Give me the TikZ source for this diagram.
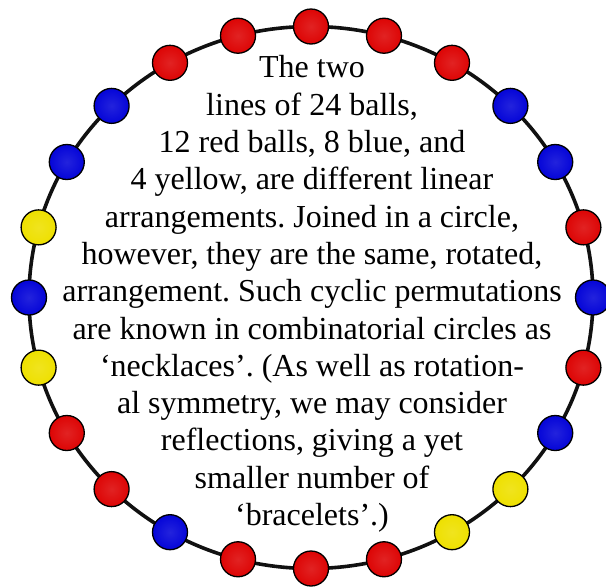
\documentclass[tikz,border=0pt]{standalone}
\usepackage{fontspec}
\setmainfont{Liberation Serif}
\usepackage{xcolor}
\usepackage{tikz}
\usetikzlibrary{
  positioning,
  calc
}
\definecolor{BeadRed}{HTML}{DD0505}
\definecolor{BeadBlue}{HTML}{0505D8}
\definecolor{BeadYellow}{HTML}{EEE000}
\definecolor{RingBlack}{HTML}{111111}

\tikzset{
  bead/.style={circle,draw=black,line width=1.3pt,minimum size=35pt,
               inner sep=0pt,inner color=#1!88!white,outer color=#1},
  ring/.style={draw=RingBlack,line width=3.6pt}
}

\begin{document}
\frenchspacing
\begin{tikzpicture}[x=1pt,y=-1pt]
        \useasboundingbox (0,0) rectangle (606,587);
        \coordinate (mid) at (311,297.5);
        \draw[ring] (mid) ellipse [x radius=282pt,y radius=271pt];
        % beads, counter-clockwise from the top
        \foreach \k/\c in {0/BeadRed,1/BeadRed,2/BeadRed,3/BeadBlue,4/BeadBlue,
                           5/BeadYellow,6/BeadBlue,7/BeadYellow,8/BeadRed,9/BeadRed,
                           10/BeadBlue,11/BeadRed,12/BeadRed,13/BeadRed,14/BeadYellow,
                           15/BeadYellow,16/BeadBlue,17/BeadRed,18/BeadBlue,19/BeadRed,
                           20/BeadBlue,21/BeadBlue,22/BeadRed,23/BeadRed}{
          \node[bead=\c] (b\k) at ({311+282*cos(90+15*\k)},{297.5-271*sin(90+15*\k)}) {};
        }
        \node[align=center,font=\fontsize{32}{37.3}\selectfont] (caption) at (312,294) {%
          The two\\
          lines of 24 balls,\\
          12 red balls, 8 blue, and\\
          4 yellow, are different linear\\
          arrangements. Joined in a circle,\\
          however, they are the same, rotated,\\
          arrangement. Such cyclic permutations\\
          are known in combinatorial circles as\\
          ‘necklaces’. (As well as rotation-\\
          al symmetry, we may consider\\
          reflections, giving a yet\\
          smaller number of\\
          ‘bracelets’.)};
      \end{tikzpicture}
\end{document}
